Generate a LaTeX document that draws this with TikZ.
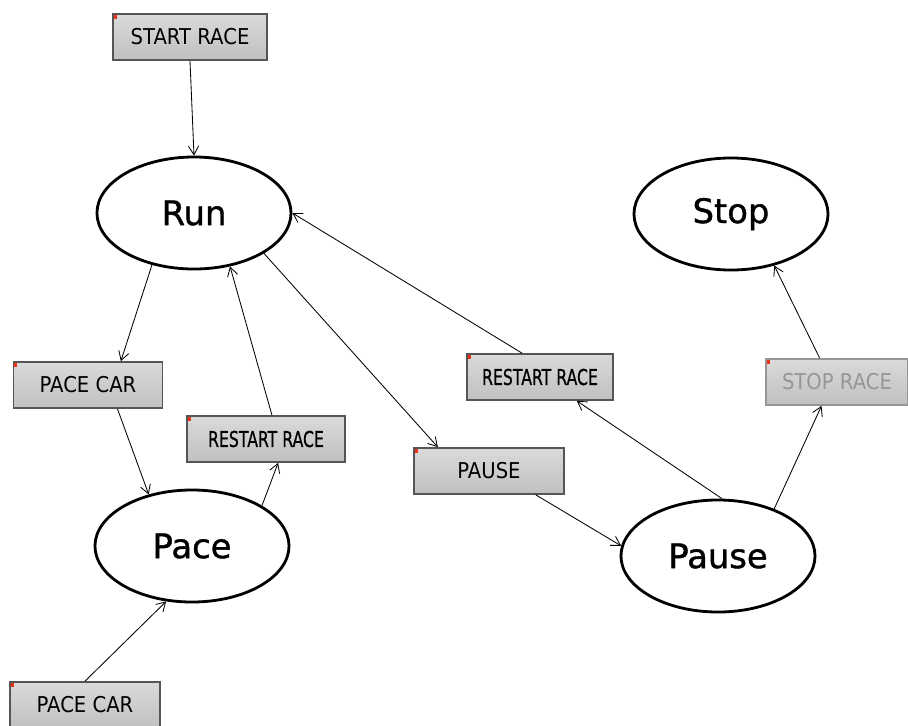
\documentclass[tikz,border=0pt]{standalone}
\usepackage{fontspec}
\setmainfont{DejaVu Sans}
\newfontfamily\statefont[FakeBold=1.2]{DejaVu Sans}
\newfontfamily\btnfont[FakeStretch=0.9]{DejaVu Sans}
\newfontfamily\narrowbtnfont[FakeStretch=0.72,FakeBold=0.6]{DejaVu Sans}
\usepackage{xcolor}
\usepackage{tikz}
\usetikzlibrary{arrows.meta}
\usetikzlibrary{shapes.geometric}
\definecolor{btntop}{RGB}{218,218,218}
\definecolor{btnbot}{RGB}{192,192,192}
\definecolor{btnedge}{RGB}{85,85,85}
\definecolor{btnoff}{RGB}{150,150,150}
\definecolor{btnmark}{RGB}{235,50,20}

\begin{document}
\begin{tikzpicture}[x=0.025cm,y=-0.025cm,
    state/.style={ellipse,draw,line width=2pt,minimum width=4.85cm,minimum height=2.8cm,
      font=\statefont\fontsize{24}{28}\selectfont},
    button/.style={rectangle,draw=btnedge,line width=1.2pt,top color=btntop,bottom color=btnbot,
      minimum height=1.15cm,font=\btnfont\fontsize{15.5}{18}\selectfont,
      path picture={\fill[btnmark] (path picture bounding box.north west) rectangle ++(0.1cm,-0.12cm);}},
    restart/.style={button,font=\narrowbtnfont\fontsize{15.5}{18}\selectfont},
    disabled/.style={button,draw=btnoff,text=btnoff},
    flow/.style={-{Straight Barb[length=2.2mm,width=2.6mm]},line width=0.6pt}]
    \useasboundingbox (0,0) rectangle (908,725);

    % states
    \node[state] (run) at (194,213) {Run};
    \node[state] (pace) at (192,546) {Pace};
    \node[state] (pause) at (718,556) {Pause};
    \node[state] (stop) at (731,214) {Stop};

    % buttons
    \node[button,minimum width=3.85cm] (start) at (190,37) {START RACE};
    \node[button,minimum width=3.725cm] (pacecarA) at (88,385) {PACE CAR};
    \node[restart,minimum width=3.95cm] (restartA) at (266,439) {RESTART RACE};
    \node[button,minimum width=3.75cm] (pacecarB) at (85,705) {PACE CAR};
    \node[button,minimum width=3.75cm] (pausebtn) at (489,471) {PAUSE};
    \node[restart,minimum width=3.65cm] (restartB) at (540,377) {RESTART RACE};
    \node[disabled,minimum width=3.55cm] (stopbtn) at (837,382) {STOP RACE};

    % transitions
    \draw[flow] (start.south) -- (run.north);
    \draw[flow] (run.231) -- (pacecarA.36);
    \draw[flow] (pacecarA.-39) -- (pace.130);
    \draw[flow] (pace.30) -- (restartA.-63);
    \draw[flow] (restartA.76) -- (run.-56);
    \draw[flow] (pacecarB.north) -- (pace.-115);
    \draw[flow] (run.-30) -- (pausebtn.155);
    \draw[flow] (pausebtn.-27) -- (pause.174);
    \draw[flow] (pause.86) -- (restartB.-33);
    \draw[flow] (restartB.127) -- (run.east);
    \draw[flow] (pause.40) -- (stopbtn.-123);
    \draw[flow] (stopbtn.126) -- (stop.-50);
\end{tikzpicture}
\end{document}
